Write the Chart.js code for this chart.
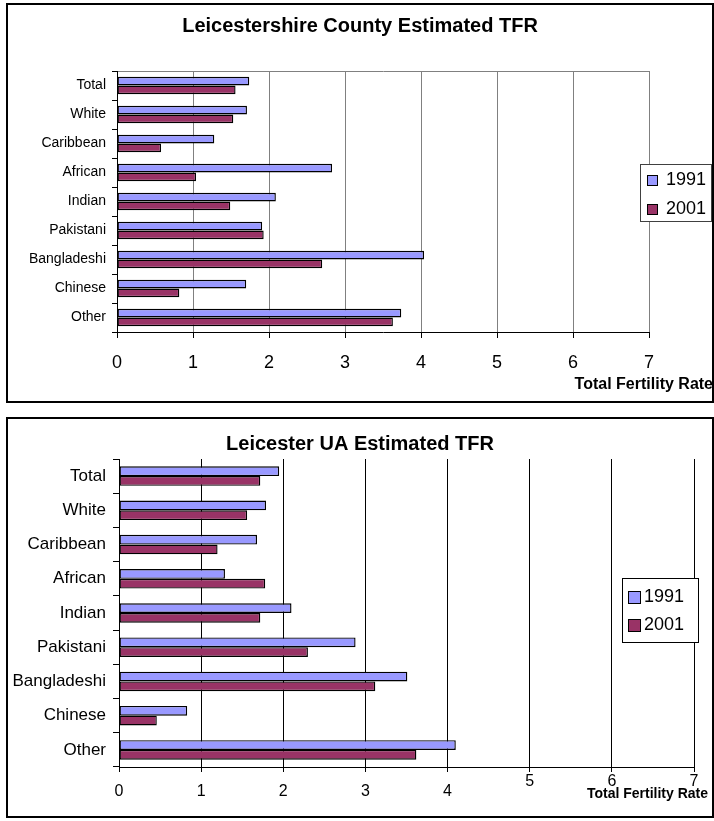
<!DOCTYPE html>
<html>
<head>
<meta charset="utf-8">
<script src="https://cdn.jsdelivr.net/npm/chart.js@4.4.0/dist/chart.umd.min.js"></script>
<style>
  body { margin: 0; background: #fff; }
  .box { position: absolute; left: 6px; width: 708px; border: 2px solid #000; box-sizing: border-box; background: #fff; }
  #box1 { top: 3px; height: 400px; }
  #box2 { top: 417px; height: 401px; }
  canvas { display: block; }
</style>
</head>
<body>
<div class="box" id="box1"><canvas id="county" width="704" height="396"></canvas></div>
<div class="box" id="box2"><canvas id="city" width="704" height="397"></canvas></div>
<script>
const groups = ['Total', 'White', 'Caribbean', 'African', 'Indian', 'Pakistani', 'Bangladeshi', 'Chinese', 'Other'];
const seriesNames = ['1991', '2001'];
const county1991 = [1.74, 1.71, 1.28, 2.83, 2.09, 1.91, 4.04, 1.70, 3.74];
const county2001 = [1.56, 1.53, 0.58, 1.04, 1.49, 1.93, 2.70, 0.82, 3.63];
const city1991 = [1.95, 1.79, 1.68, 1.29, 2.10, 2.88, 3.51, 0.83, 4.10];
const city2001 = [1.72, 1.56, 1.20, 1.78, 1.72, 2.30, 3.12, 0.46, 3.62];
const rateTicks = [0, 1, 2, 3, 4, 5, 6, 7];
const axisTitle = 'Total Fertility Rate';

const family = '"Liberation Sans", Arial, sans-serif';

// excel-style legend box and the axis title hanging off the right edge
const boxLegend = {
  id: 'boxLegend',
  afterDraw(chart, args, o) {
    const ctx = chart.ctx;
    ctx.save();
    ctx.lineWidth = 1;
    ctx.fillStyle = '#fff';
    ctx.fillRect(o.x, o.y, o.w, o.h);
    ctx.strokeStyle = o.borderColor;
    ctx.strokeRect(o.x + 0.5, o.y + 0.5, o.w, o.h);
    ctx.font = o.font;
    ctx.textBaseline = 'middle';
    chart.data.datasets.forEach((ds, i) => {
      const cy = o.rows[i];
      const sx = o.x + o.swatchX, sy = Math.round(cy - o.swatch / 2);
      ctx.fillStyle = ds.backgroundColor;
      ctx.fillRect(sx, sy, o.swatch, o.swatch);
      ctx.strokeStyle = '#000';
      ctx.strokeRect(sx + 0.5, sy + 0.5, o.swatch, o.swatch);
      ctx.fillStyle = '#000';
      ctx.fillText(ds.label, o.x + o.textX, cy);
    });
    ctx.font = o.titleFont;
    ctx.textAlign = 'right';
    ctx.fillText(o.title, o.titleRight, o.titleY);
    ctx.restore();
  }
};

function drawChart(id, title, v1991, v2001, look) {
  return new Chart(document.getElementById(id), {
    type: 'bar',
    data: {
      labels: groups,
      datasets: [
        { label: seriesNames[0], data: v1991, yAxisID: 'y', backgroundColor: '#9999FF', borderColor: '#000', borderWidth: 1.4, borderSkipped: false },
        { label: seriesNames[1], data: v2001, yAxisID: 'y', backgroundColor: '#993366', borderColor: '#000', borderWidth: 1.4, borderSkipped: false },
      ],
    },
    plugins: [boxLegend],
    options: {
      indexAxis: 'y',
      responsive: false,
      animation: false,
      layout: { padding: 0 },
      datasets: { bar: { categoryPercentage: look.catPct, barPercentage: 1 } },
      scales: {
        x: {
          min: 0,
          max: 7,
          afterBuildTicks: s => { s.ticks = rateTicks.map(v => ({ value: v })); },
          grid: { color: look.gridColor, tickColor: '#000', tickLength: look.xTickLen },
          border: { color: '#000' },
          ticks: {
            color: '#000',
            padding: look.xTickPad,
            maxRotation: 0,
            crossAlign: look.raiseFrom ? 'far' : 'near',
            // excel nudged the last labels up out of the axis title's way
            callback: v => (look.raiseFrom && v >= look.raiseFrom ? [String(v), ''] : String(v)),
            font: { size: look.xTickSize, family, lineHeight: look.xTickLH },
          },
          afterFit: s => { s.height = look.xAxisH; },
        },
        y: {
          grid: {
            offset: true,
            drawOnChartArea: look.topLine,
            color: c => (c.index === 0 ? look.gridColor : 'transparent'),
            tickColor: '#000',
            tickLength: look.yTickLen,
          },
          border: { color: '#000' },
          ticks: { color: '#000', padding: look.yTickPad, autoSkip: false, font: { size: look.yTickSize, family } },
          afterFit: s => { s.width = look.yAxisW; },
        },
        // empty right-hand axis: keeps room for the legend without shifting the title
        spacer: {
          type: 'category',
          position: 'right',
          grid: { display: false },
          border: { display: false },
          ticks: { display: false },
          afterFit: s => { s.width = look.padRight; },
        },
      },
      plugins: {
        legend: { display: false },
        tooltip: { enabled: false },
        title: {
          display: true,
          text: title,
          color: '#000',
          font: { size: 20, weight: 'bold', family },
          padding: { top: look.titleTop, bottom: look.titleBottom },
        },
        boxLegend: Object.assign({ title: axisTitle }, look.legend),
      },
    },
  });
}

drawChart('county', 'Leicestershire County Estimated TFR', county1991, county2001, {
  padRight: 63, catPct: 0.6, gridColor: '#808080', topLine: true,
  xTickLen: 6, xTickPad: 14, xTickSize: 18, xTickLH: 1.2, xAxisH: 69,
  yTickLen: 5, yTickPad: 6, yTickSize: 14, yAxisW: 109,
  titleTop: 9, titleBottom: 33,
  legend: {
    x: 632, y: 159, w: 71, h: 57, rows: [175, 204], swatchX: 7, swatch: 10, textX: 26,
    borderColor: '#404040', font: '18px ' + family,
    titleFont: 'bold 16px ' + family, titleRight: 705, titleY: 380,
  },
});

drawChart('city', 'Leicester UA Estimated TFR', city1991, city2001, {
  padRight: 18, catPct: 0.57, gridColor: '#000', topLine: false,
  xTickLen: 5, xTickPad: 10, xTickSize: 16, xTickLH: 0.6, xAxisH: 49, raiseFrom: 5,
  yTickLen: 6, yTickPad: 7, yTickSize: 17, yAxisW: 111,
  titleTop: 13, titleBottom: 3,
  legend: {
    x: 614, y: 159, w: 76, h: 64, rows: [178, 206], swatchX: 6, swatch: 12, textX: 22,
    borderColor: '#000', font: '18px ' + family,
    titleFont: 'bold 14px ' + family, titleRight: 700, titleY: 375,
  },
});
</script>
</body>
</html>
